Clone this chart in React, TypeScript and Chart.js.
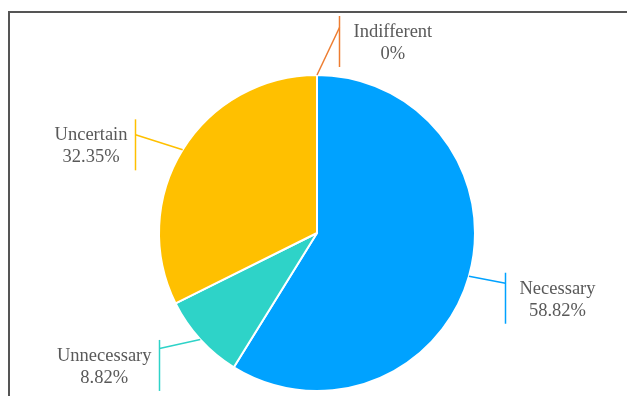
import React, { useEffect, useRef } from "react";
import { Chart, registerables } from "chart.js";

Chart.register(...registerables);

const categories = ["Necessary", "Unnecessary", "Uncertain", "Indifferent"];
const counts = [20, 3, 11, 0];
const percentLabels = ["58.82%", "8.82%", "32.35%", "0%"];
const sliceColors = ["#00A2FF", "#2ED3C8", "#FFC000", "#ED7D31"];

// label placement relative to slice edge point: [barDx, barDy, joinDy]
const labelPlacement: [number, number, number][] = [
  [36, 22, -15],
  [-41, 26, -17],
  [-48, -5, -10],
  [22, -33.5, -14],
];

const labelPlugin = {
  id: "sideLabels",
  afterDatasetsDraw(chart: any) {
    const ctx = chart.ctx;
    const meta = chart.getDatasetMeta(0);
    ctx.save();
    ctx.font = "18.5px 'Liberation Serif', 'Times New Roman', serif";
    meta.data.forEach((arc: any, i: number) => {
      const { x, y, startAngle, endAngle, outerRadius } = arc.getProps(
        ["x", "y", "startAngle", "endAngle", "outerRadius"],
        true
      );
      const mid = (startAngle + endAngle) / 2;
      const ex = x + Math.cos(mid) * outerRadius;
      const ey = y + Math.sin(mid) * outerRadius;
      const [bdx, bdy, jdy] = labelPlacement[i];
      const bx = Math.round(ex + bdx) + 0.5;
      const by = ey + bdy;
      ctx.strokeStyle = sliceColors[i];
      ctx.lineWidth = 1.5;
      ctx.beginPath();
      ctx.moveTo(ex, ey);
      ctx.lineTo(bx, by + jdy);
      ctx.stroke();
      ctx.beginPath();
      ctx.moveTo(bx, by - 25.5);
      ctx.lineTo(bx, by + 25.5);
      ctx.stroke();

      const lines = [categories[i], percentLabels[i]];
      const w = Math.max(...lines.map((l) => ctx.measureText(l).width));
      const cx = bdx > 0 ? bx + 14 + w / 2 : bx - 8 - w / 2;
      ctx.fillStyle = "#595959";
      ctx.textAlign = "center";
      ctx.textBaseline = "alphabetic";
      ctx.fillText(lines[0], cx, by - 4.5);
      ctx.fillText(lines[1], cx, by + 17.5);
    });
    ctx.restore();
  },
};

export default function App() {
  const ref = useRef<HTMLCanvasElement>(null);
  useEffect(() => {
    if (!ref.current) return;
    const chart = new Chart(ref.current, {
      type: "pie",
      data: {
        labels: categories,
        datasets: [
          {
            data: counts,
            backgroundColor: sliceColors,
            borderColor: "#ffffff",
            borderWidth: 2,
            hoverOffset: 0,
          },
        ],
      },
      options: {
        animation: false,
        responsive: false,
        layout: { padding: { left: 158, right: 151, top: 74, bottom: 4 } },
        plugins: {
          legend: { display: false },
          tooltip: { enabled: false },
        },
      },
      plugins: [labelPlugin],
    });
    return () => chart.destroy();
  }, []);

  return (
    <div
      style={{
        position: "fixed",
        left: 0,
        top: 0,
        width: 627,
        height: 396,
        overflow: "hidden",
        background: "#fff",
      }}
    >
      <div
        style={{
          position: "absolute",
          left: 8,
          top: 11,
          width: 800,
          height: 600,
          borderLeft: "2px solid #555",
          borderTop: "2px solid #555",
        }}
      />
      <canvas
        ref={ref}
        width={627}
        height={396}
        style={{ position: "absolute", left: 0, top: 0, width: 627, height: 396 }}
      />
    </div>
  );
}
